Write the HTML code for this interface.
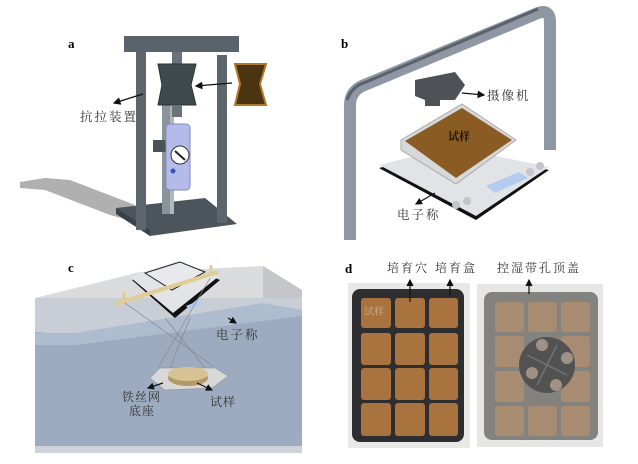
<!DOCTYPE html>
<html><head><meta charset="utf-8"><style>
html,body{margin:0;padding:0;background:#fff}
svg{display:block}
text{font-family:"Liberation Serif","Noto Serif CJK SC",serif}
</style></head><body>
<svg width="638" height="464" viewBox="0 0 638 464" xmlns="http://www.w3.org/2000/svg">
<defs>
<marker id="ar" markerWidth="6" markerHeight="6" refX="5" refY="3" orient="auto"><path d="M0,0 L6,3 L0,6z" fill="#111"/></marker>
</defs>
<!-- Panel a -->
<text x="68" y="48" font-size="13" font-weight="bold">a</text>
<polygon points="20,182 45,178 70,180 135,205 135,222 110,215 45,190 20,188" fill="#b0b0b0"/>
<polygon points="116,208 205,198 237,224 150,236" fill="#4c555c"/>
<polygon points="116,208 150,230 150,236 116,214" fill="#3a4248"/>
<rect x="124" y="36" width="115" height="16" fill="#5a636b"/>
<rect x="136" y="52" width="10" height="178" fill="#5d666d"/>
<rect x="217" y="55" width="10" height="168" fill="#5d666d"/>
<rect x="162" y="104" width="12" height="110" fill="#8a949b"/>
<rect x="170" y="104" width="4" height="110" fill="#b0b8bc"/>
<rect x="172" y="52" width="10" height="12" fill="#6b737a"/>
<polygon points="158,64 196,64 191,85 196,105 158,105 162,85" fill="#3f4a4e" stroke="#2a3236"/>
<rect x="172" y="105" width="10" height="12" fill="#6b737a"/>
<rect x="153" y="140" width="14" height="12" fill="#4a5358"/>
<rect x="166" y="124" width="24" height="66" rx="4" fill="#b4bbe8" stroke="#7f88c8"/>
<circle cx="180" cy="155" r="9" fill="#fff" stroke="#333"/>
<line x1="175" y1="151" x2="185" y2="160" stroke="#222" stroke-width="2"/>
<circle cx="173" cy="171" r="2.5" fill="#3657b5"/>
<polygon points="235,64 266,64 260,84 266,105 235,105 240,84" fill="#4a3412" stroke="#b0782a" stroke-width="2"/>
<line x1="232" y1="83" x2="196" y2="86" stroke="#111" stroke-width="1.3" marker-end="url(#ar)"/>
<line x1="143" y1="94" x2="114" y2="103" stroke="#111" stroke-width="1.3" marker-end="url(#ar)"/>
<text x="80" y="121" font-size="12.5" letter-spacing="2" fill="#333">抗拉装置</text>

<!-- Panel b -->
<text x="341" y="48" font-size="13" font-weight="bold">b</text>
<path d="M350,240 L350,105 Q350,92 362,86 L538,13 Q550,9 550,22 L550,150" fill="none" stroke="#9097a4" stroke-width="12"/>
<path d="M347,100 Q352,86 366,82 L538,9" fill="none" stroke="#5d626a" stroke-width="3"/>
<polygon points="415,80 455,72 465,85 455,100 440,100 440,106 425,106 425,100 415,96" fill="#4e5257"/>
<line x1="462" y1="93" x2="484" y2="95" stroke="#111" stroke-width="1.3" marker-end="url(#ar)"/>
<text x="487" y="100" font-size="12.5" letter-spacing="2" fill="#333">摄像机</text>
<polygon points="379,168 452,150 549,170 476,220" fill="#111"/>
<polygon points="379,165 452,147 549,167 476,216" fill="#e2e3e6"/>
<polygon points="486,186 519,172 528,178 495,193" fill="#b4cdef"/>
<circle cx="456" cy="205" r="4" fill="#c4c5cc"/><circle cx="467" cy="201" r="4" fill="#c4c5cc"/>
<circle cx="530" cy="172" r="4" fill="#c4c5cc"/><circle cx="540" cy="166" r="4" fill="#c4c5cc"/>
<polygon points="401,140 462,104 516,140 456,184 401,150" fill="#d8d8da" stroke="#aaa"/>
<polygon points="405,141 462,108 512,140 456,178" fill="#8a5b22"/>
<text x="448" y="140" font-size="11" font-weight="bold" fill="#111">试样</text>
<line x1="435" y1="193" x2="416" y2="204" stroke="#111" stroke-width="1.2" marker-end="url(#ar)"/>
<text x="397" y="219" font-size="12.5" letter-spacing="2" fill="#333">电子称</text>

<!-- Panel c -->
<text x="68" y="272" font-size="13" font-weight="bold">c</text>
<polygon points="35,298 140,272 263,266 302,290 302,300 35,300" fill="#dadbdd"/>
<polygon points="263,266 302,290 302,452 263,440" fill="#c4c6ca"/>
<rect x="35" y="298" width="267" height="155" fill="#c9ced6"/>
<polygon points="75,335 263,305 302,312 302,452 35,452 35,332" fill="#9dabc0"/>
<polygon points="75,333 263,303 302,310 302,316 75,345 35,345 35,333" fill="#aebcd0"/>
<rect x="35" y="446" width="267" height="7" fill="#cfd2d8"/>
<polygon points="132,280 180,264 220,280 175,318" fill="#111"/>
<polygon points="130,277 178,261 218,277 173,313" fill="#e3e4e6"/>
<polygon points="145,273 180,262 205,272 172,290" fill="#e8e9eb" stroke="#222"/>
<polygon points="186,306 200,300 204,304 190,310" fill="#b6cbee"/>
<line x1="115" y1="304" x2="218" y2="272" stroke="#e1cc94" stroke-width="4"/>
<line x1="124" y1="292" x2="124" y2="302" stroke="#e1cc94" stroke-width="3"/>
<line x1="211" y1="265" x2="211" y2="275" stroke="#e1cc94" stroke-width="3"/>
<g stroke="#888" stroke-width="0.7"><line x1="125" y1="303" x2="213" y2="366"/><line x1="210" y1="278" x2="158" y2="368"/><line x1="165" y1="318" x2="205" y2="368"/><line x1="190" y1="318" x2="170" y2="368"/></g>
<polygon points="150,378 160,368 215,368 228,376 212,388 165,390" fill="#d8d8d8" stroke="#888" stroke-width="0.5"/>
<ellipse cx="188" cy="378" rx="20" ry="8" fill="#b29966"/>
<ellipse cx="188" cy="374" rx="20" ry="7" fill="#d6c293"/>
<line x1="228" y1="318" x2="236" y2="323" stroke="#111" stroke-width="1.2" marker-end="url(#ar)"/>
<text x="216" y="339" font-size="12.5" letter-spacing="2" fill="#333">电子称</text>
<line x1="163" y1="383" x2="148" y2="388" stroke="#111" stroke-width="1.2" marker-end="url(#ar)"/>
<line x1="197" y1="383" x2="212" y2="390" stroke="#111" stroke-width="1.2" marker-end="url(#ar)"/>
<text x="122" y="401" font-size="12" letter-spacing="1" fill="#333">铁丝网</text>
<text x="129" y="415" font-size="12" letter-spacing="1" fill="#333">底座</text>
<text x="210" y="406" font-size="12" letter-spacing="1" fill="#333">试样</text>

<!-- Panel d -->
<text x="345" y="273" font-size="13" font-weight="bold">d</text>
<text x="387" y="272" font-size="12" letter-spacing="2" fill="#333">培育穴</text>
<text x="435" y="272" font-size="12" letter-spacing="2" fill="#333">培育盒</text>
<text x="497" y="272" font-size="12" letter-spacing="2" fill="#333">控湿带孔顶盖</text>
<rect x="348" y="283" width="122" height="165" fill="#e8e8e6"/>
<rect x="352" y="289" width="112" height="153" rx="8" fill="#2e2e30"/>
<rect x="477" y="284" width="126" height="163" fill="#e6e6e4"/>
<rect x="484" y="292" width="114" height="148" rx="8" fill="#6a6762"/>
<g fill="#a8733e">
<rect x="361" y="298" width="30" height="30" rx="3"/><rect x="395" y="298" width="30" height="30" rx="3"/><rect x="429" y="298" width="29" height="30" rx="3"/>
<rect x="361" y="333" width="30" height="32" rx="3"/><rect x="395" y="333" width="30" height="32" rx="3"/><rect x="429" y="333" width="29" height="32" rx="3"/>
<rect x="361" y="368" width="30" height="32" rx="3"/><rect x="395" y="368" width="30" height="32" rx="3"/><rect x="429" y="368" width="29" height="32" rx="3"/>
<rect x="361" y="403" width="30" height="33" rx="3"/><rect x="395" y="403" width="30" height="33" rx="3"/><rect x="429" y="403" width="29" height="33" rx="3"/>
</g>
<g fill="#957352">
<rect x="495" y="302" width="29" height="30" rx="3"/><rect x="528" y="302" width="29" height="30" rx="3"/><rect x="561" y="302" width="29" height="30" rx="3"/>
<rect x="495" y="336" width="29" height="31" rx="3"/><rect x="561" y="336" width="29" height="31" rx="3"/>
<rect x="495" y="371" width="29" height="31" rx="3"/><rect x="561" y="371" width="29" height="31" rx="3"/>
<rect x="495" y="406" width="29" height="30" rx="3"/><rect x="528" y="406" width="29" height="30" rx="3"/><rect x="561" y="406" width="29" height="30" rx="3"/>
</g>
<circle cx="547" cy="365" r="28" fill="#2d2d2e"/>
<g fill="#8a7a6a"><circle cx="542" cy="345" r="6"/><circle cx="567" cy="358" r="6"/><circle cx="532" cy="373" r="6"/><circle cx="556" cy="385" r="6"/></g>
<line x1="527" y1="355" x2="567" y2="375" stroke="#555" stroke-width="1.5"/><line x1="557" y1="345" x2="537" y2="385" stroke="#555" stroke-width="1.5"/>
<rect x="484" y="292" width="114" height="148" rx="8" fill="#fff" opacity="0.18"/>
<text x="364" y="315" font-size="10" fill="#d8c0a0" opacity="0.8">试样</text>
<line x1="410" y1="302" x2="410" y2="280" stroke="#111" stroke-width="1.2" marker-end="url(#ar)"/>
<line x1="450" y1="296" x2="450" y2="280" stroke="#111" stroke-width="1.2" marker-end="url(#ar)"/>
<line x1="529" y1="294" x2="529" y2="280" stroke="#111" stroke-width="1.2" marker-end="url(#ar)"/>
</svg>
</body></html>
